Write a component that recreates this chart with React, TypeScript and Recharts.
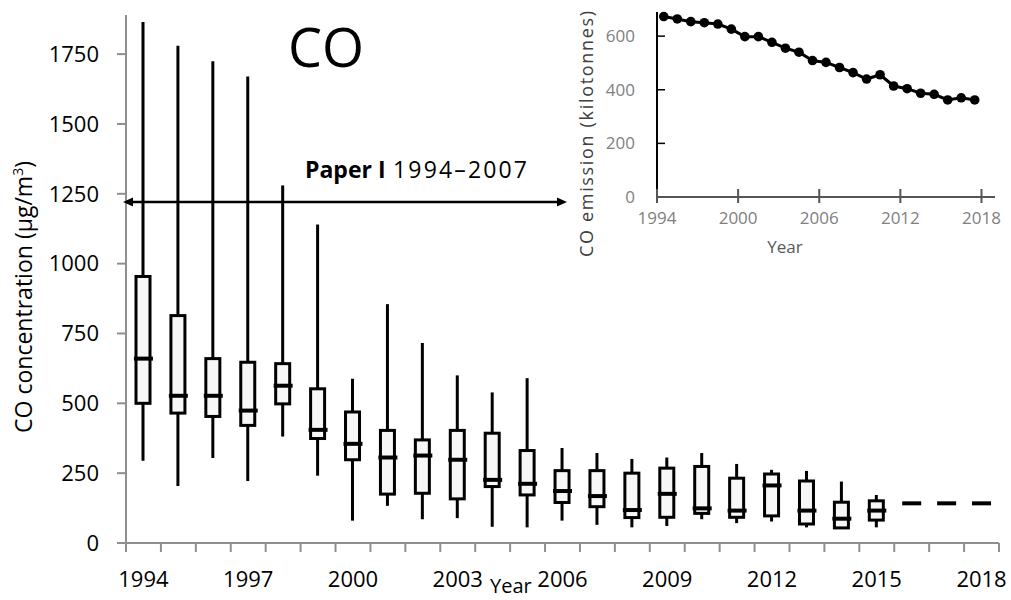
import React from 'react';
import { ComposedChart, Bar, Scatter, XAxis, YAxis, LineChart, Line } from 'recharts';

// yearly CO concentration box plots (µg/m³)
const years = [
  '1994', '1995', '1996', '1997', '1998', '1999', '2000', '2001', '2002', '2003', '2004', '2005',
  '2006', '2007', '2008', '2009', '2010', '2011', '2012', '2013', '2014', '2015', '2016', '2017', '2018',
];
const whiskerLow = [294, 204, 304, 222, 381, 241, 80, 133, 85, 89, 58, 56, 80, 65, 56, 61, 85, 71, 77, 56, 54, 56, null, null, null];
const q1 = [500, 465, 453, 421, 498, 374, 298, 175, 178, 158, 202, 172, 145, 130, 91, 92, 106, 92, 97, 68, 54, 82, null, null, null];
const median = [660, 527, 527, 474, 563, 405, 355, 306, 313, 298, 226, 212, 186, 168, 118, 176, 124, 116, 206, 116, 87, 116, 142, 142, 142];
const q3 = [954, 814, 660, 647, 642, 552, 469, 403, 369, 403, 393, 331, 259, 259, 250, 268, 274, 232, 247, 222, 146, 151, null, null, null];
const whiskerHigh = [1865, 1780, 1724, 1670, 1280, 1140, 588, 855, 716, 600, 539, 590, 340, 322, 301, 306, 322, 283, 262, 258, 220, 172, null, null, null];
const concTicks = [0, 250, 500, 750, 1000, 1250, 1500, 1750];

// national CO emissions (kilotonnes)
const emissionYears = [
  1994, 1995, 1996, 1997, 1998, 1999, 2000, 2001, 2002, 2003, 2004, 2005,
  2006, 2007, 2008, 2009, 2010, 2011, 2012, 2013, 2014, 2015, 2016, 2017,
];
const emissions = [673, 664, 654, 650, 645, 626, 598, 598, 577, 555, 540, 509, 502, 483, 464, 440, 456, 414, 404, 387, 383, 362, 370, 362];
const emissionTicksY = [0, 200, 400, 600];
const emissionTicksX = [1994, 2000, 2006, 2012, 2018];

const boxData = years.map((year, i) => ({
  year,
  range: whiskerLow[i] != null ? [whiskerLow[i], whiskerHigh[i]] : null,
  q1: q1[i],
  q3: q3[i],
  median: median[i],
}));

const emissionData = emissionYears.map((year, i) => ({ year, value: emissions[i] }));

const FONT = '"Open Sans", "Noto Sans", sans-serif';
const AXIS_GREY = '#8f8f8f';
const BOX_FILL = '#f7f7f7';

// whisker + box, positioned inside the [low, high] range bar
const BoxShape = (props: any) => {
  const { x, y, width, height, payload } = props;
  if (!payload || !payload.range) return null;
  const [lo, hi] = payload.range;
  const top = Math.min(y, y + height);
  const bottom = Math.max(y, y + height);
  const toY = (v: number) => top + ((hi - v) / (hi - lo)) * (bottom - top);
  const cx = x + width / 2;
  const yQ3 = toY(payload.q3);
  const yQ1 = toY(payload.q1);
  return (
    <g>
      <line x1={cx} x2={cx} y1={top} y2={bottom} stroke="#000" strokeWidth={3} />
      <rect x={x} y={yQ3} width={width} height={yQ1 - yQ3} fill={BOX_FILL} stroke="#000" strokeWidth={3} />
    </g>
  );
};

const MedianDash = (props: any) => {
  const { cx, cy } = props;
  if (cx == null || cy == null) return null;
  return <line x1={cx - 9.5} x2={cx + 9.5} y1={cy} y2={cy} stroke="#000" strokeWidth={4} />;
};

// Excel-style category ticks: marks between bands, a label every third year
const YearTick = (props: any) => {
  const { x, y, payload, index, visibleTicksCount } = props;
  const half = (payload && payload.offset) || 17.46;
  const last = index === (visibleTicksCount ?? years.length) - 1;
  return (
    <g>
      <line x1={x - half} x2={x - half} y1={y} y2={y + 9} stroke={AXIS_GREY} strokeWidth={2} />
      {last && <line x1={x + half} x2={x + half} y1={y} y2={y + 9} stroke={AXIS_GREY} strokeWidth={2} />}
      {index % 3 === 0 && (
        <text x={x} y={y + 44} textAnchor="middle" fontSize={22} fill="#000" fontFamily={FONT}>
          {payload.value}
        </text>
      )}
    </g>
  );
};

const InsetXTick = (props: any) => {
  const { x, y, payload } = props;
  return (
    <g>
      <line x1={x} x2={x} y1={y - 8} y2={y + 6} stroke="#555" strokeWidth={2} />
      <text x={x} y={y + 27} textAnchor="middle" fontSize={17} fill="#808080" fontFamily={FONT}>
        {payload.value}
      </text>
    </g>
  );
};

const InsetYTick = (props: any) => {
  const { x, y, payload } = props;
  return (
    <g>
      {payload.value !== 0 && <line x1={x + 22} x2={x + 30} y1={y} y2={y} stroke="#000" strokeWidth={1.5} />}
      <text x={x} y={y} dy="0.355em" textAnchor="end" fontSize={17} fill="#808080" fontFamily={FONT}>
        {payload.value}
      </text>
    </g>
  );
};

export default function App() {
  return (
    <div style={{ position: 'absolute', left: 0, top: 0, width: 1011, height: 600, background: '#fff', fontFamily: FONT, overflow: 'hidden' }}>
      <div style={{ position: 'absolute', left: 0, top: 0 }}>
        <ComposedChart width={1011} height={600} data={boxData} margin={{ top: 15, right: 12, bottom: 0, left: 0 }}>
          <XAxis
            dataKey="year"
            interval={0}
            tickSize={0}
            tickMargin={0}
            tickLine={false}
            height={57}
            axisLine={{ stroke: AXIS_GREY, strokeWidth: 2 }}
            tick={<YearTick />}
          />
          <YAxis
            type="number"
            domain={[0, 1890]}
            ticks={concTicks}
            width={126}
            tickSize={9}
            tickMargin={18}
            axisLine={{ stroke: AXIS_GREY, strokeWidth: 2 }}
            tickLine={{ stroke: AXIS_GREY, strokeWidth: 2 }}
            tick={{ fontSize: 22, fill: '#000', fontFamily: FONT }}
          />
          <Bar dataKey="range" barSize={14} shape={<BoxShape />} isAnimationActive={false} />
          <Scatter dataKey="median" shape={<MedianDash />} isAnimationActive={false} />
        </ComposedChart>
      </div>

      <div style={{ position: 'absolute', left: 580, top: 0 }}>
        <LineChart width={431} height={260} data={emissionData} margin={{ top: 12, right: 16, bottom: 0, left: 0 }}>
          <XAxis
            type="number"
            dataKey={(d: any) => d.year + 0.5}
            domain={[1994, 2019]}
            ticks={emissionTicksX}
            interval={0}
            tickSize={0}
            tickMargin={0}
            tickLine={false}
            height={63}
            axisLine={{ stroke: '#555', strokeWidth: 2 }}
            tick={<InsetXTick />}
          />
          <YAxis
            type="number"
            domain={[0, 690]}
            ticks={emissionTicksY}
            width={77}
            tickSize={0}
            tickMargin={22}
            tickLine={false}
            axisLine={{ stroke: '#000', strokeWidth: 2 }}
            tick={<InsetYTick />}
          />
          <Line
            type="linear"
            dataKey="value"
            stroke="#000"
            strokeWidth={3}
            dot={{ r: 4.8, fill: '#000', stroke: '#000', strokeWidth: 0 }}
            isAnimationActive={false}
          />
        </LineChart>
      </div>

      <svg width={1011} height={600} style={{ position: 'absolute', left: 0, top: 0, pointerEvents: 'none' }} fontFamily={FONT}>
        <text x={326} y={67} textAnchor="middle" fontSize={54} fill="#000">CO</text>

        <text
          transform="translate(32,297) rotate(-90)"
          textAnchor="middle"
          fontSize={23}
          fill="#000"
          textLength={272}
          lengthAdjust="spacing"
        >
          CO concentration (μg/m<tspan fontSize={14} dy={-9}>3</tspan><tspan dy={9}>)</tspan>
        </text>
        <text x={490} y={593} fontSize={20} fill="#000">Year</text>

        {/* study period annotation */}
        <text x={305} y={178} fontSize={23} fontWeight="bold" fill="#000">Paper I</text>
        <text x={393} y={178} fontSize={23} fill="#000" textLength={134} lengthAdjust="spacing">1994–2007</text>
        <line x1={130} x2={560} y1={202} y2={202} stroke="#000" strokeWidth={2.5} />
        <polygon points="123,202 133,197.5 133,206.5" fill="#000" />
        <polygon points="567,202 557,197.5 557,206.5" fill="#000" />

        <text
          transform="translate(593,134) rotate(-90)"
          textAnchor="middle"
          fontSize={18}
          fill="#404040"
          textLength={246}
          lengthAdjust="spacing"
        >
          CO emission (kilotonnes)
        </text>
        <text x={785} y={253} textAnchor="middle" fontSize={17} fill="#595959">Year</text>
      </svg>
    </div>
  );
}
